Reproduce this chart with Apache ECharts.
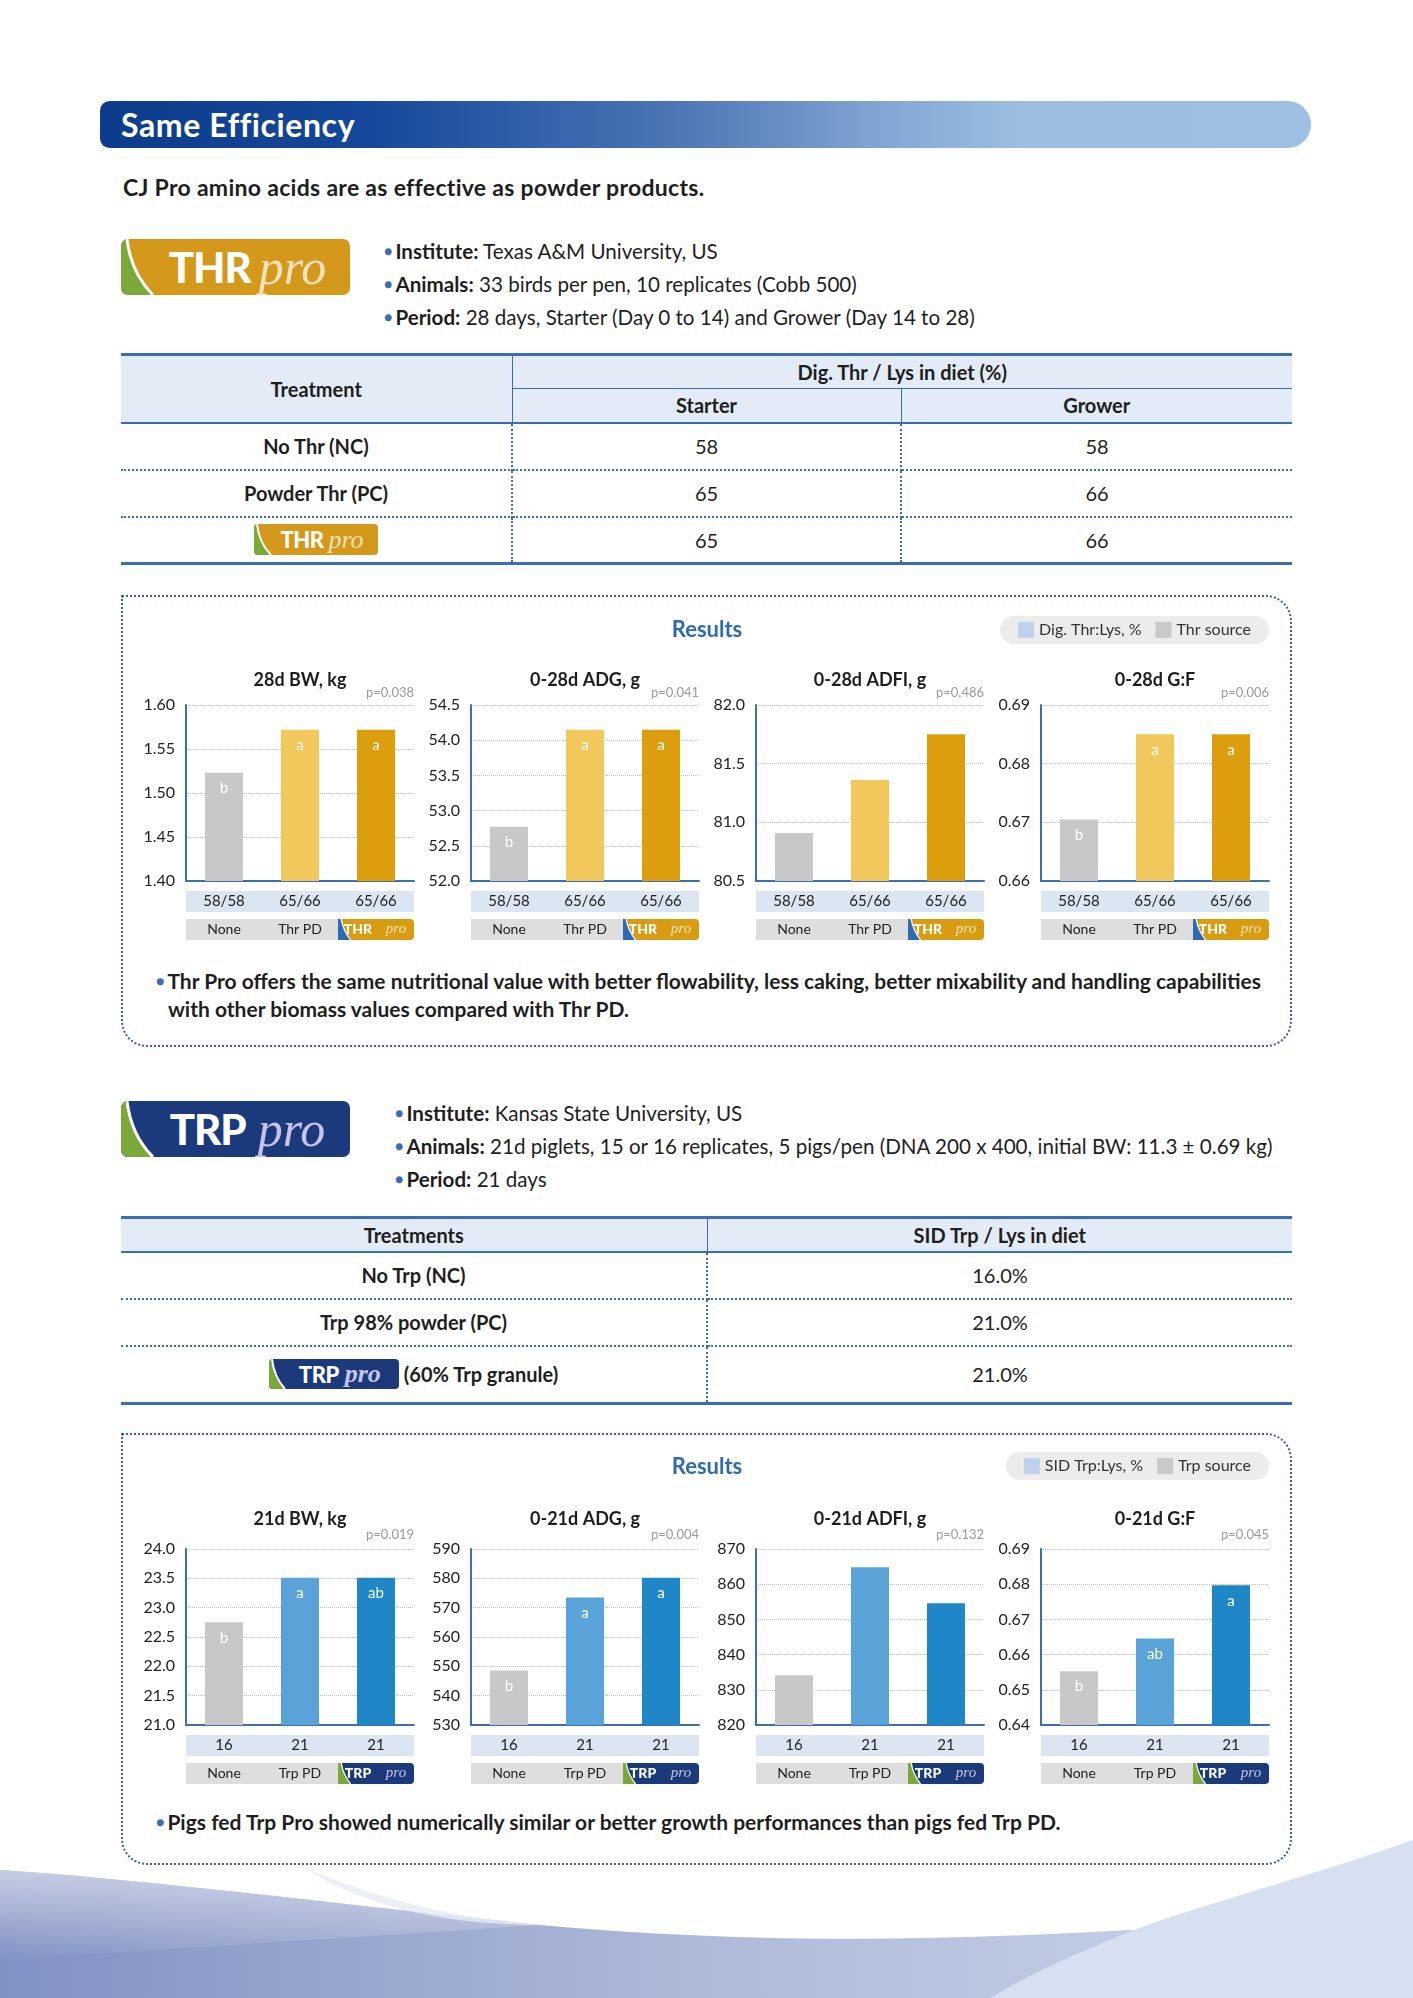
<!DOCTYPE html>
<html>
<head>
<meta charset="utf-8">
<script src="https://cdn.jsdelivr.net/npm/echarts@6/dist/echarts.min.js"></script>
<style>
html,body{margin:0;padding:0;background:#fff;}
#page{position:relative;width:1413px;height:1998px;overflow:hidden;font-family:Lato,"Noto Sans",sans-serif;color:#1e1e1e;}
.abs{position:absolute;}
#deco{position:absolute;left:0;top:0;z-index:0;}
.layer{position:absolute;z-index:1;}
.hdr{left:100px;top:101px;width:1211px;height:47px;border-radius:10px 24px 24px 10px;
 background:linear-gradient(90deg,#0c3c8b 0%,#15479a 22%,#4d77b6 48%,#86a9d5 66%,#9bbee1 76%,#9dc0e2 100%);}
.hdr span{position:absolute;left:21px;top:0;line-height:47px;color:#fff;font-weight:700;font-size:32px;letter-spacing:0.6px;}
.sub{left:123px;top:172px;font-size:23px;font-weight:700;line-height:30px;letter-spacing:0.3px;}
.info{font-size:20.6px;line-height:30px;white-space:nowrap;}
.info b{font-weight:700;}
.info .dot,.note .dot{color:#3a6db5;font-size:14px;vertical-align:3px;margin-right:3px;}
.logo{position:absolute;overflow:hidden;display:flex;align-items:center;justify-content:center;box-sizing:border-box;}
.logo svg{position:absolute;left:0;top:0;}
.logo .t{position:relative;font-weight:900;color:#fff;letter-spacing:-1px;}
.logo .p{position:relative;font-family:"Liberation Serif",serif;font-style:italic;}
table.t{position:absolute;border-collapse:collapse;table-layout:fixed;font-size:20px;}
table.t td{padding:0;text-align:center;vertical-align:middle;}
table.t tr.hd td{background:#e3ecf6;font-weight:700;}
table.t td.n{font-weight:700;}
.box{position:absolute;left:121px;width:1167px;border:2px dotted #3a5fa6;border-radius:0 26px 26px 26px;}
.chart{position:absolute;left:121px;width:1171px;height:360px;}
.note{position:absolute;left:156px;font-size:21px;font-weight:700;line-height:28px;white-space:nowrap;}
</style>
</head>
<body>
<div id="page">
<svg id="deco" width="1413" height="1998">
 <defs>
  <linearGradient id="gA" x1="0" x2="1" y1="0" y2="0">
   <stop offset="0" stop-color="#8291c4"/><stop offset="0.5" stop-color="#aebad9"/><stop offset="1" stop-color="#cdd7ec"/>
  </linearGradient>
  <linearGradient id="gT" x1="0" x2="0" y1="0" y2="1">
   <stop offset="0" stop-color="#ffffff" stop-opacity="0.9"/><stop offset="1" stop-color="#ffffff" stop-opacity="0"/>
  </linearGradient>
 </defs>
 <path d="M0,1870 C 150,1880 300,1900 540,1925 C 760,1945 950,1940 1130,1930 L1413,1998 L0,1998 Z" fill="url(#gA)"/>
 <path d="M0,1870 C 150,1880 300,1900 540,1925 L0,1960 Z" fill="url(#gT)" opacity="0.6"/>
 <path d="M297,1863 C 360,1895 450,1918 540,1925 C 430,1925 350,1900 297,1863 Z" fill="#e6ebf5" opacity="0.8"/>
 <path d="M1413,1840 C 1300,1880 1180,1910 1117,1937 C 1060,1960 1020,1980 990,1998 L1413,1998 Z" fill="#d6e0f0"/>
</svg>

<div class="layer abs hdr"><span>Same Efficiency</span></div>
<div class="layer abs sub">CJ Pro amino acids are as effective as powder products.</div>

<!-- THR logo -->
<div class="layer logo" style="left:121px;top:239px;width:229px;height:56px;border-radius:7px;background:#d4981a;padding-left:24px;">
 <svg width="229" height="56"><path d="M0,0 H6 Q10,34 32,56 H0 Z" fill="#7ba83a"/><path d="M6,0 Q10,34 32,56" stroke="#fff" stroke-width="3" fill="none"/></svg>
 <span class="t" style="font-size:42px;">THR</span><span class="p" style="font-size:50px;color:#f4e2bd;margin-left:8px;">pro</span>
</div>
<div class="layer abs info" style="left:384px;top:236px;"><span class="dot">●</span><b>Institute:</b> Texas A&amp;M University, US</div>
<div class="layer abs info" style="left:384px;top:269px;"><span class="dot">●</span><b>Animals:</b> 33 birds per pen, 10 replicates (Cobb 500)</div>
<div class="layer abs info" style="left:384px;top:302px;"><span class="dot">●</span><b>Period:</b> 28 days, Starter (Day 0 to 14) and Grower (Day 14 to 28)</div>

<table class="t layer" style="left:121px;top:353px;width:1171px;border-top:3px solid #3a6db5;border-bottom:3px solid #3a6db5;">
 <colgroup><col style="width:391px"><col style="width:389px"><col style="width:391px"></colgroup>
 <tr class="hd" style="height:34px"><td rowspan="2" style="border-right:1.5px solid #3a6db5;border-bottom:2px solid #3a6db5;">Treatment</td><td colspan="2" style="border-bottom:1.5px solid #3a6db5;">Dig. Thr / Lys in diet (%)</td></tr>
 <tr class="hd" style="height:34px"><td style="border-right:1.5px solid #3a6db5;border-bottom:2px solid #3a6db5;">Starter</td><td style="border-bottom:2px solid #3a6db5;">Grower</td></tr>
 <tr style="height:47px"><td class="n" style="border-right:2px dotted #3a6db5;border-bottom:2px dotted #3a6db5;">No Thr (NC)</td><td style="border-right:2px dotted #3a6db5;border-bottom:2px dotted #3a6db5;">58</td><td style="border-bottom:2px dotted #3a6db5;">58</td></tr>
 <tr style="height:47px"><td class="n" style="border-right:2px dotted #3a6db5;border-bottom:2px dotted #3a6db5;">Powder Thr (PC)</td><td style="border-right:2px dotted #3a6db5;border-bottom:2px dotted #3a6db5;">65</td><td style="border-bottom:2px dotted #3a6db5;">66</td></tr>
 <tr style="height:47px"><td style="border-right:2px dotted #3a6db5;position:relative;">
   <div class="logo" style="position:relative;display:inline-flex;width:124px;height:31px;border-radius:4px;background:#d4981a;padding-left:12px;vertical-align:middle;">
    <svg width="124" height="31"><path d="M0,0 H3 Q5,19 17,31 H0 Z" fill="#7ba83a"/><path d="M3,0 Q5,19 17,31" stroke="#fff" stroke-width="2" fill="none"/></svg>
    <span class="t" style="font-size:22px;letter-spacing:-0.5px;">THR</span><span class="p" style="font-size:26px;color:#f4e2bd;margin-left:5px;">pro</span>
   </div></td><td style="border-right:2px dotted #3a6db5;">65</td><td>66</td></tr>
</table>

<div class="box layer" style="top:595px;height:448px;"></div>
<div id="c1" class="chart layer" style="top:595px;"></div>
<div class="note layer" style="top:967px;"><span class="dot">●</span>Thr Pro offers the same nutritional value with better flowability, less caking, better mixability and handling capabilities<br><span style="padding-left:12px">with other biomass values compared with Thr PD.</span></div>

<!-- TRP logo -->
<div class="layer logo" style="left:121px;top:1101px;width:229px;height:56px;border-radius:7px;background:#1b3a7c;padding-left:24px;">
 <svg width="229" height="56"><path d="M0,0 H6 Q10,34 32,56 H0 Z" fill="#7ba83a"/><path d="M6,0 Q10,34 32,56" stroke="#fff" stroke-width="3" fill="none"/></svg>
 <span class="t" style="font-size:42px;">TRP</span><span class="p" style="font-size:50px;color:#c9c3e6;margin-left:12px;">pro</span>
</div>
<div class="layer abs info" style="left:395px;top:1098px;"><span class="dot">●</span><b>Institute:</b> Kansas State University, US</div>
<div class="layer abs info" style="left:395px;top:1131px;"><span class="dot">●</span><b>Animals:</b> 21d piglets, 15 or 16 replicates, 5 pigs/pen (DNA 200 x 400, initial BW: 11.3 ± 0.69 kg)</div>
<div class="layer abs info" style="left:395px;top:1164px;"><span class="dot">●</span><b>Period:</b> 21 days</div>

<table class="t layer" style="left:121px;top:1216px;width:1171px;border-top:3px solid #3a6db5;border-bottom:3px solid #3a6db5;">
 <colgroup><col style="width:586px"><col style="width:585px"></colgroup>
 <tr class="hd" style="height:34px"><td style="border-right:1.5px solid #3a6db5;border-bottom:2px solid #3a6db5;">Treatments</td><td style="border-bottom:2px solid #3a6db5;">SID Trp / Lys in diet</td></tr>
 <tr style="height:47px"><td class="n" style="border-right:2px dotted #3a6db5;border-bottom:2px dotted #3a6db5;">No Trp (NC)</td><td style="border-bottom:2px dotted #3a6db5;">16.0%</td></tr>
 <tr style="height:47px"><td class="n" style="border-right:2px dotted #3a6db5;border-bottom:2px dotted #3a6db5;">Trp 98% powder (PC)</td><td style="border-bottom:2px dotted #3a6db5;">21.0%</td></tr>
 <tr style="height:58px"><td class="n" style="border-right:2px dotted #3a6db5;">
   <div class="logo" style="position:relative;display:inline-flex;width:130px;height:30px;border-radius:4px;background:#1b3a7c;padding-left:12px;vertical-align:middle;">
    <svg width="130" height="30"><path d="M0,0 H3 Q5,18 16,30 H0 Z" fill="#7ba83a"/><path d="M3,0 Q5,18 16,30" stroke="#fff" stroke-width="2" fill="none"/></svg>
    <span class="t" style="font-size:22px;letter-spacing:-0.5px;">TRP</span><span class="p" style="font-size:26px;color:#c9c3e6;margin-left:6px;">pro</span>
   </div><span style="vertical-align:middle;margin-left:5px;">(60% Trp granule)</span></td><td>21.0%</td></tr>
</table>

<div class="box layer" style="top:1433px;height:428px;"></div>
<div id="c2" class="chart layer" style="top:1433px;"></div>
<div class="note layer" style="top:1808px;"><span class="dot">●</span>Pigs fed Trp Pro showed numerically similar or better growth performances than pigs fed Trp PD.</div>
</div>

<script>
// ---------- THR (broiler) data ----------
const thrCategories = ['None', 'Thr PD', 'THR pro'];
const thrDietRatio = ['58/58', '65/66', '65/66'];
const thrChartTitles = ['28d BW, kg', '0-28d ADG, g', '0-28d ADFI, g', '0-28d G:F'];
const thrPValues = ['p=0.038', 'p=0.041', 'p=0.486', 'p=0.006'];
const thrLegend = ['Dig. Thr:Lys, %', 'Thr source'];
const thrBW = [1.523, 1.572, 1.572];
const thrADG = [52.77, 54.15, 54.15];
const thrADFI = [80.91, 81.36, 81.75];
const thrGF = [0.6705, 0.6850, 0.6850];
const thrBWLetters = ['b', 'a', 'a'];
const thrADGLetters = ['b', 'a', 'a'];
const thrADFILetters = ['', '', ''];
const thrGFLetters = ['b', 'a', 'a'];
// y-axis ticks: [min, max, step, decimals]
const thrBWTicks = [1.40, 1.60, 0.05, 2];
const thrADGTicks = [52.0, 54.5, 0.5, 1];
const thrADFITicks = [80.5, 82.0, 0.5, 1];
const thrGFTicks = [0.66, 0.69, 0.01, 2];

// ---------- TRP (piglet) data ----------
const trpCategories = ['None', 'Trp PD', 'TRP pro'];
const trpDietRatio = ['16', '21', '21'];
const trpChartTitles = ['21d BW, kg', '0-21d ADG, g', '0-21d ADFI, g', '0-21d G:F'];
const trpPValues = ['p=0.019', 'p=0.004', 'p=0.132', 'p=0.045'];
const trpLegend = ['SID Trp:Lys, %', 'Trp source'];
const trpBW = [22.75, 23.51, 23.51];
const trpADG = [548.6, 573.5, 580.2];
const trpADFI = [834.1, 864.8, 854.6];
const trpGF = [0.6553, 0.6646, 0.6797];
const trpBWLetters = ['b', 'a', 'ab'];
const trpADGLetters = ['b', 'a', 'a'];
const trpADFILetters = ['', '', ''];
const trpGFLetters = ['b', 'ab', 'a'];
const trpBWTicks = [21.0, 24.0, 0.5, 1];
const trpADGTicks = [530, 590, 10, 0];
const trpADFITicks = [820, 870, 10, 0];
const trpGFTicks = [0.64, 0.69, 0.01, 2];

const FONT = 'Lato, "Noto Sans", sans-serif';

function logoBg(fill, slash) {
  const svg = '<svg xmlns="http://www.w3.org/2000/svg" width="38" height="21" viewBox="0 0 38 21">' +
    '<rect x="0" y="0" width="38" height="21" fill="' + fill + '"/>' +
    '<path d="M0,0 H3 Q5,12 12,21 H0 Z" fill="' + slash + '"/>' +
    '<path d="M3,0 Q5,12 12,21" stroke="#ffffff" stroke-width="1.2" fill="none"/></svg>';
  return 'data:image/svg+xml;charset=utf-8,' + encodeURIComponent(svg);
}

function buildPanel(domId, cfg) {
  const chart = echarts.init(document.getElementById(domId), null, { renderer: 'canvas' });
  const leftEdges = [65, 350, 635, 920];
  const W = 228, H = 176;
  const grids = [], xAxes = [], yAxes = [], series = [];
  const graphics = [{
    type: 'text', x: 586, y: cfg.resultsY,
    style: { text: 'Results', align: 'center', verticalAlign: 'middle', fontSize: 22, fontWeight: 'bold', fontFamily: FONT, fill: '#2e6bb3' }
  }];
  cfg.metrics.forEach(function (m, i) {
    const L = leftEdges[i];
    grids.push({ left: L, top: cfg.plotTop, width: W, height: H, containLabel: false, outerBoundsMode: 'none' });
    graphics.push({ type: 'text', x: L + W / 2, y: cfg.titleY,
      style: { text: cfg.titles[i], align: 'center', verticalAlign: 'middle', fontSize: 18, fontWeight: 'bold', fontFamily: FONT, fill: '#1e1e1e' } });
    graphics.push({ type: 'text', x: L + W, y: cfg.pY,
      style: { text: cfg.pValues[i], align: 'right', verticalAlign: 'middle', fontSize: 13, fontFamily: FONT, fill: '#9a9a9a' } });
    xAxes.push({
      gridIndex: i, type: 'category', data: cfg.categories,
      axisLine: { onZero: false, lineStyle: { color: '#3a6eb7', width: 2 } },
      axisTick: { show: false }, splitLine: { show: false },
      axisLabel: {
        interval: 0, margin: 10, hideOverlap: false,
        formatter: function (value, idx) {
          let s = '{v|' + cfg.diet[idx] + '}\n{g| }\n';
          if (idx === 2) {
            const parts = value.split(' ');
            s += '{la|' + parts[0] + '}{lb|' + parts[1] + '}';
          } else {
            s += '{s|' + value + '}';
          }
          return s;
        },
        rich: {
          v: { width: 76, height: 21, lineHeight: 21, backgroundColor: '#dce6f3', align: 'center', fontSize: 15, color: '#222', fontFamily: FONT },
          g: { height: 7, lineHeight: 7, fontSize: 2 },
          s: { width: 76, height: 21, lineHeight: 21, backgroundColor: '#dedede', align: 'center', fontSize: 14, color: '#222', fontFamily: FONT },
          la: { width: 40, height: 21, lineHeight: 21, align: 'right', fontSize: 14, fontWeight: 900, color: '#fff', fontFamily: FONT,
                backgroundColor: { image: logoBg(cfg.logoFill, cfg.logoSlash) } },
          lb: { width: 36, height: 21, lineHeight: 21, align: 'center', fontSize: 15, fontStyle: 'italic', fontFamily: '"Liberation Serif", serif',
                color: cfg.proColor, backgroundColor: cfg.logoFill, borderRadius: [0, 4, 4, 0] }
        }
      }
    });
    yAxes.push({
      gridIndex: i, type: 'value', min: m.ticks[0], max: m.ticks[1], interval: m.ticks[2],
      axisLine: { show: true, lineStyle: { color: '#3a6eb7', width: 2 } },
      axisTick: { show: false },
      axisLabel: { showMinLabel: true, showMaxLabel: true, margin: 11, fontSize: 16, color: '#222', fontFamily: FONT,
        formatter: function (v) { return Number(v).toFixed(m.ticks[3]); } },
      splitLine: { show: true, lineStyle: { type: 'dotted', color: '#bcbcbc', width: 1 } }
    });
    series.push({
      type: 'bar', xAxisIndex: i, yAxisIndex: i, barWidth: 38, silent: true, clip: true,
      data: m.values.map(function (v, j) { return { value: v, itemStyle: { color: cfg.colors[j] } }; }),
      label: { show: true, position: 'insideTop', distance: 8, color: '#fff', fontSize: 15, fontFamily: FONT,
        formatter: function (p) { return m.letters[p.dataIndex]; } }
    });
  });
  series.push({ type: 'line', name: cfg.legend[0], data: [], xAxisIndex: 0, yAxisIndex: 0 });
  series.push({ type: 'line', name: cfg.legend[1], data: [], xAxisIndex: 0, yAxisIndex: 0 });
  chart.setOption({
    animation: false,
    grid: grids, xAxis: xAxes, yAxis: yAxes, series: series, graphic: graphics,
    legend: {
      right: 23, top: cfg.legendTop, orient: 'horizontal', selectedMode: false,
      backgroundColor: '#ececec', borderRadius: 14, padding: [6, 18, 6, 18],
      itemWidth: 16, itemHeight: 16, itemGap: 14,
      textStyle: { fontSize: 16, color: '#333', fontFamily: FONT },
      data: [
        { name: cfg.legend[0], icon: 'rect', itemStyle: { color: '#c0d1ee' } },
        { name: cfg.legend[1], icon: 'rect', itemStyle: { color: '#c9c9c9' } }
      ]
    }
  });
  return chart;
}

buildPanel('c1', {
  resultsY: 35, legendTop: 21, plotTop: 110, titleY: 85, pY: 98,
  categories: thrCategories, diet: thrDietRatio, titles: thrChartTitles, pValues: thrPValues, legend: thrLegend,
  colors: ['#c8c8c8', '#f2c75c', '#dc9e0d'],
  logoFill: '#d99c10', logoSlash: '#2e6bb4', proColor: '#f6e4bd',
  metrics: [
    { values: thrBW, letters: thrBWLetters, ticks: thrBWTicks },
    { values: thrADG, letters: thrADGLetters, ticks: thrADGTicks },
    { values: thrADFI, letters: thrADFILetters, ticks: thrADFITicks },
    { values: thrGF, letters: thrGFLetters, ticks: thrGFTicks }
  ]
});

buildPanel('c2', {
  resultsY: 34, legendTop: 19, plotTop: 116, titleY: 86, pY: 102,
  categories: trpCategories, diet: trpDietRatio, titles: trpChartTitles, pValues: trpPValues, legend: trpLegend,
  colors: ['#c8c8c8', '#5aa3d9', '#1f87c8'],
  logoFill: '#1b3a7c', logoSlash: '#7ba83a', proColor: '#c9c3e6',
  metrics: [
    { values: trpBW, letters: trpBWLetters, ticks: trpBWTicks },
    { values: trpADG, letters: trpADGLetters, ticks: trpADGTicks },
    { values: trpADFI, letters: trpADFILetters, ticks: trpADFITicks },
    { values: trpGF, letters: trpGFLetters, ticks: trpGFTicks }
  ]
});
</script>
</body>
</html>
